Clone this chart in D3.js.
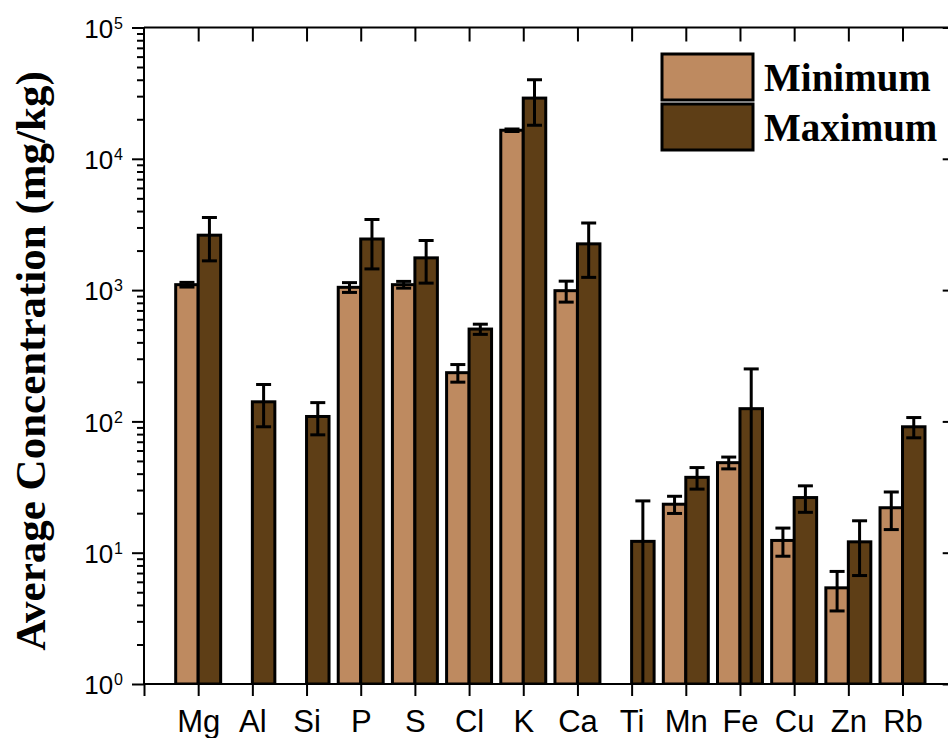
<!DOCTYPE html>
<html>
<head>
<meta charset="utf-8">
<script src="https://cdn.jsdelivr.net/npm/d3@7"></script>
<style>
  body { margin: 0; background: #fff; }
  svg { display: block; }
  .axis path, .axis line { stroke: #000; stroke-width: 2; }
</style>
</head>
<body>
<svg id="chart" width="948" height="738"></svg>
<script>
// values (mg/kg), null = no bar
const elements = ["Mg", "Al", "Si", "P", "S", "Cl", "K", "Ca", "Ti", "Mn", "Fe", "Cu", "Zn", "Rb"];
const minVals = [1100, null, null, 1050, 1100, 235, 16500, 990, null, 23.4, 48.5, 12.4, 5.4, 22];
const minErr  = [45, null, null, 90, 65, 36, 350, 180, null, 3.5, 5, 3, 1.8, 7];
const maxVals = [2620, 141, 109, 2450, 1760, 505, 29000, 2250, 12.2, 37.5, 125, 26.3, 12.1, 91];
const maxErr  = [950, 50, 30, 1000, 630, 45, 11000, 1000, 12.6, 7, 126, 6, 5.4, 16];
const decades = [1, 10, 100, 1000, 10000, 100000];
const seriesNames = ["Minimum", "Maximum"];
const colors = ["#BE8A60", "#5E3E16"];

const margin = { top: 27.5, left: 144, bottom: 684 };
const svg = d3.select("#chart");

const x = d3.scaleLinear()
    .domain([0, elements.length + 1])
    .range([margin.left, margin.left + 54.18 * (elements.length + 1)]);
const y = d3.scaleLog()
    .domain([1, 1e5])
    .range([margin.bottom, margin.top]);

const bw = x(0.415) - x(0);
const capW = 15;

svg.append("defs").append("clipPath").attr("id", "plot-clip")
  .append("rect")
    .attr("x", x(0)).attr("y", y(1e5))
    .attr("width", x.range()[1] - x(0)).attr("height", y(1) - y(1e5));

const plot = svg.append("g").attr("clip-path", "url(#plot-clip)");

// + BARS
const rows = [];
elements.forEach((el, i) => {
    if (minVals[i] != null) rows.push({ i, s: 0, v: minVals[i], e: minErr[i] });
    if (maxVals[i] != null) rows.push({ i, s: 1, v: maxVals[i], e: maxErr[i] });
});

plot.selectAll("rect.bar")
  .data(rows)
  .join("rect")
    .attr("class", "bar")
    .attr("x", d => d.s === 0 ? x(d.i + 1) - bw : x(d.i + 1))
    .attr("y", d => y(d.v))
    .attr("width", bw)
    .attr("height", d => y(1) - y(d.v))
    .attr("fill", d => colors[d.s])
    .attr("stroke", "#000")
    .attr("stroke-width", 3);

// + ERROR BARS
const eb = plot.selectAll("g.err")
  .data(rows)
  .join("g")
    .attr("class", "err")
    .attr("stroke", "#000")
    .attr("stroke-width", 3);

const cx = d => d.s === 0 ? x(d.i + 1) - bw / 2 : x(d.i + 1) + bw / 2;
const lo = d => Math.max(d.v - d.e, 1);

eb.append("line")
    .attr("x1", cx).attr("x2", cx)
    .attr("y1", d => y(d.v + d.e))
    .attr("y2", d => y(lo(d)));
eb.append("line")
    .attr("x1", d => cx(d) - capW / 2).attr("x2", d => cx(d) + capW / 2)
    .attr("y1", d => y(d.v + d.e)).attr("y2", d => y(d.v + d.e));
eb.filter(d => d.v - d.e > 1).append("line")
    .attr("x1", d => cx(d) - capW / 2).attr("x2", d => cx(d) + capW / 2)
    .attr("y1", d => y(d.v - d.e)).attr("y2", d => y(d.v - d.e));

// + AXES
const minorVals = [];
decades.slice(0, -1).forEach(dv => { for (let k = 2; k <= 9; k++) minorVals.push(dv * k); });
const idx = d3.range(0, elements.length + 2);

// bottom
svg.append("g")
    .attr("class", "axis")
    .attr("transform", `translate(0,${y(1)})`)
    .call(d3.axisBottom(x).tickValues(idx).tickSize(12).tickPadding(14)
        .tickFormat(i => elements[i - 1] || ""))
    .call(g => g.select(".domain").attr("d", `M${x(0)},0H${x.range()[1]}`))
    .selectAll("text")
      .attr("font-family", "'Liberation Sans', Arial, sans-serif")
      .attr("font-size", 31)
      .attr("fill", "#000");

// top (mirror, inward ticks)
svg.append("g")
    .attr("class", "axis")
    .attr("transform", `translate(0,${y(1e5)})`)
    .call(d3.axisBottom(x).tickValues(idx.slice(1, -1)).tickSize(14).tickFormat(""))
    .call(g => g.select(".domain").attr("d", `M${x(0)},0H${x.range()[1]}`));

// left
const left = svg.append("g")
    .attr("class", "axis")
    .attr("transform", `translate(${x(0)},0)`);
left.call(d3.axisLeft(y).tickValues(decades).tickSize(12).tickPadding(9).tickFormat(""))
    .call(g => g.select(".domain").attr("d", `M0,${y(1)}V${y(1e5)}`));

left.selectAll(".tick text").each(function (d) {
    const t = d3.select(this)
        .attr("font-family", "'Liberation Sans', Arial, sans-serif")
        .attr("font-size", 26)
        .attr("fill", "#000")
        .attr("dy", "0.38em")
        .attr("x", -21);
    t.append("tspan").text("10");
    t.append("tspan").attr("font-size", 16).attr("dx", 1).attr("dy", -9)
        .text(Math.round(Math.log10(d)));
});

left.append("g")
    .call(d3.axisLeft(y).tickValues(minorVals).tickSize(7).tickFormat(""))
    .call(g => g.select(".domain").remove());

// right (mirror, inward ticks)
const right = svg.append("g")
    .attr("class", "axis")
    .attr("transform", `translate(${x.range()[1]},0)`);
right.call(d3.axisLeft(y).tickValues(decades).tickSize(14).tickFormat(""))
    .call(g => g.select(".domain").attr("d", `M0,${y(1)}V${y(1e5)}`));
right.append("g")
    .call(d3.axisLeft(y).tickValues(minorVals).tickSize(7).tickFormat(""))
    .call(g => g.select(".domain").remove());

// y title
svg.append("text")
    .attr("transform", "translate(45,361) rotate(-90)")
    .attr("text-anchor", "middle")
    .attr("font-family", "'Liberation Serif', 'Times New Roman', serif")
    .attr("font-weight", "bold")
    .attr("font-size", 43)
    .attr("fill", "#000")
    .text("Average Concentration (mg/kg)");

// + LEGEND
const legend = svg.append("g").attr("transform", "translate(662,54)");
const lg = legend.selectAll("g")
  .data(seriesNames)
  .join("g")
    .attr("transform", (d, i) => `translate(0,${i * 50})`);
lg.append("rect")
    .attr("width", 91).attr("height", 46)
    .attr("fill", (d, i) => colors[i])
    .attr("stroke", "#000").attr("stroke-width", 3);
lg.append("text")
    .attr("x", 102).attr("y", 37)
    .attr("font-family", "'Liberation Serif', 'Times New Roman', serif")
    .attr("font-weight", "bold")
    .attr("font-size", 39)
    .attr("fill", "#000")
    .text(d => d);
</script>
</body>
</html>
